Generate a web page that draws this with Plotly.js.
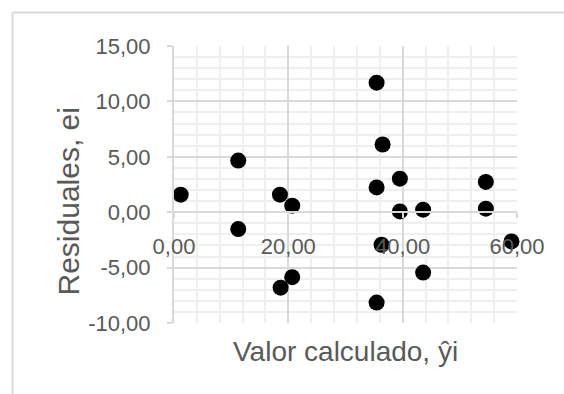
<!DOCTYPE html>
<html>
<head>
<meta charset="utf-8">
<script src="https://cdn.plot.ly/plotly-3.0.1.min.js"></script>
<style>html,body{margin:0;padding:0;background:#fff;}#chart{width:564px;height:394px;}</style>
</head>
<body>
<div id="chart"></div>
<script>
var calculado = [1.17, 11.24, 11.24, 18.53, 20.68, 18.65, 20.68, 35.44, 36.49, 35.44, 39.51, 39.51, 43.58, 36.31, 43.58, 35.44, 54.55, 54.55, 59.04];
var residuales = [1.58, 4.66, -1.52, 1.58, 0.59, -6.81, -5.86, 11.69, 6.11, 2.24, 3.03, 0.07, 0.23, -2.94, -5.45, -8.16, 2.73, 0.32, -2.64];
var xTickVals = [0, 20, 40, 60];
var xTickText = ['0,00', '20,00', '40,00', '60,00'];
var yTickVals = [-10, -5, 0, 5, 10, 15];
var yTickText = ['-10,00', '-5,00', '0,00', '5,00', '10,00', '15,00'];
var xTitle = 'Valor calculado, ŷi';
var yTitle = 'Residuales, ei';

var font = 'Liberation Sans, Arial, sans-serif';
var txt = '#595959';
var major = '#d9d9d9';
var minorC = '#efefef';

var trace = {
  x: calculado, y: residuales, type: 'scatter', mode: 'markers',
  marker: {color: '#000000', size: 16, line: {width: 0}},
  cliponaxis: false, hoverinfo: 'skip'
};

var layout = {
  width: 564, height: 394,
  margin: {l: 174, r: 47, t: 46, b: 71},
  paper_bgcolor: '#ffffff', plot_bgcolor: '#ffffff',
  showlegend: false,
  font: {family: font, color: txt},
  xaxis: {
    range: [0, 60], tickmode: 'array', tickvals: xTickVals, ticktext: xTickText,
    anchor: 'free', position: 0.4,
    showgrid: true, gridcolor: major, gridwidth: 2,
    zeroline: false,
    showline: true, linecolor: major, linewidth: 2,
    ticks: 'outside', ticklen: 5, tickcolor: major, tickwidth: 2,
    tickfont: {family: font, size: 22, color: txt},
    ticklabelstandoff: 9,
    minor: {tickmode: 'linear', tick0: 0, dtick: 4, showgrid: true, gridcolor: minorC, gridwidth: 2, ticks: ''},
    title: {text: ''}
  },
  yaxis: {
    range: [-10, 15], tickmode: 'array', tickvals: yTickVals, ticktext: yTickText,
    showgrid: true, gridcolor: major, gridwidth: 2,
    zeroline: false,
    showline: true, linecolor: major, linewidth: 2,
    ticks: 'outside', ticklen: 5, tickcolor: major, tickwidth: 2,
    tickfont: {family: font, size: 22, color: txt},
    ticklabelstandoff: 12,
    minor: {tickmode: 'linear', tick0: 0, dtick: 1, showgrid: true, gridcolor: minorC, gridwidth: 2, ticks: ''},
    title: {text: ''}
  },
  annotations: [
    {text: xTitle, xref: 'paper', yref: 'paper', x: 0.5, y: -0.04, xanchor: 'center', yanchor: 'top',
     showarrow: false, font: {family: font, size: 28, color: txt}},
    {text: yTitle, xref: 'paper', yref: 'paper', x: -0.308, y: 0.44, xanchor: 'center', yanchor: 'middle',
     textangle: -90, showarrow: false, font: {family: font, size: 30, color: txt}}
  ],
  shapes: [
    {type: 'line', xref: 'paper', yref: 'paper', x0: -0.4708, x1: 1.2, y0: 1.1209, y1: 1.1209, line: {color: '#d9d9d9', width: 2}},
    {type: 'line', xref: 'paper', yref: 'paper', x0: -0.4708, x1: -0.4708, y0: 1.1209, y1: -0.3, line: {color: '#d9d9d9', width: 2}}
  ]
};

Plotly.newPlot('chart', [trace], layout, {staticPlot: true, displayModeBar: false});
</script>
</body>
</html>
